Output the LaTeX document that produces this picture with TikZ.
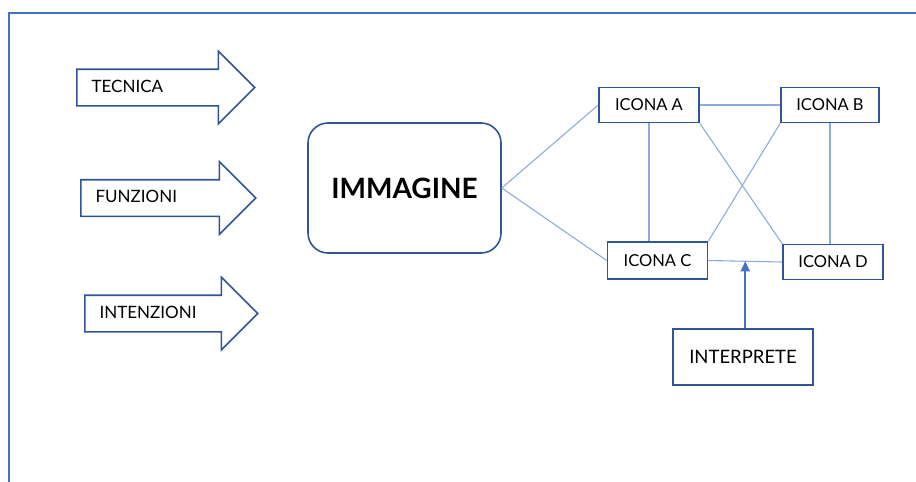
\documentclass[tikz,border=0pt]{standalone}
\usepackage{fontspec}
\setmainfont{Lato}
\usepackage{tikz}
\usetikzlibrary{arrows.meta,calc,positioning,shapes.arrows}
\definecolor{frameblue}{HTML}{4472C4}
\definecolor{boxblue}{HTML}{2F5597}
\definecolor{linkblue}{HTML}{8FAADC}
\tikzset{
  bigarrow/.style={single arrow, draw=boxblue, line width=1.6pt, fill=white,
    anchor=tail, single arrow head extend=18pt, single arrow tip angle=90,
    inner xsep=14pt, inner ysep=10pt, text width=130pt, align=left,
    text height=12pt, text depth=3pt, font=\fontsize{17}{19}\selectfont},
  icona/.style={draw=boxblue, line width=1.6pt, minimum width=100pt,
    minimum height=35pt, inner sep=0pt, font=\fontsize{16.5}{18}\selectfont},
  link/.style={draw=linkblue, line width=1.1pt}
}
\begin{document}
\begin{tikzpicture}[x=1pt,y=-1pt]
\useasboundingbox (0,0) rectangle (916,482);
% cornice
\draw[frameblue,line width=1.3pt] (9,490) -- (9,13) -- (925,13);
% frecce
\node[bigarrow] (tec) at (76,87.5) {TECNICA};
\node[bigarrow, text width=127pt] (fun) at (80,198) {FUNZIONI};
\node[bigarrow, text width=125pt] (int) at (84,313.5) {INTENZIONI};
% immagine
\node[draw=boxblue, line width=1.6pt, rounded corners=20pt, minimum width=193pt,
  minimum height=130pt, font=\fontsize{28}{31}\selectfont\bfseries] (imm) at (404.5,188) {IMMAGINE};
% icone
\node[icona] (a) at (649,105) {ICONA A};
\node[icona, minimum width=98pt] (b) at (830,105) {ICONA B};
\node[icona, minimum height=37pt] (c) at (657.5,260.5) {ICONA C};
\node[icona] (d) at (833,262) {ICONA D};
\node[icona, minimum width=140pt, minimum height=56pt, font=\fontsize{18.5}{20}\selectfont] (ip) at (743,357) {INTERPRETE};
\coordinate (cd) at ($(c.east)!0.5!(d.west)$);
% collegamenti
\draw[link] (imm.east) -- (a.west);
\draw[link] (imm.east) -- (c.west);
\draw[link] (a.east) -- (b.west);
\draw[link] (c.east) -- (d.west);
\draw[link] (a.south) -- (a.south |- c.north);
\draw[link] (b.south) -- (b.south |- d.north);
\draw[link] (a.south east) -- (d.north west);
\draw[link] (b.south west) -- (c.north east);
\draw[frameblue, line width=1.8pt, -{Triangle[width=9pt,length=10pt]}] (ip.north -| cd) -- (cd);
\end{tikzpicture}
\end{document}
